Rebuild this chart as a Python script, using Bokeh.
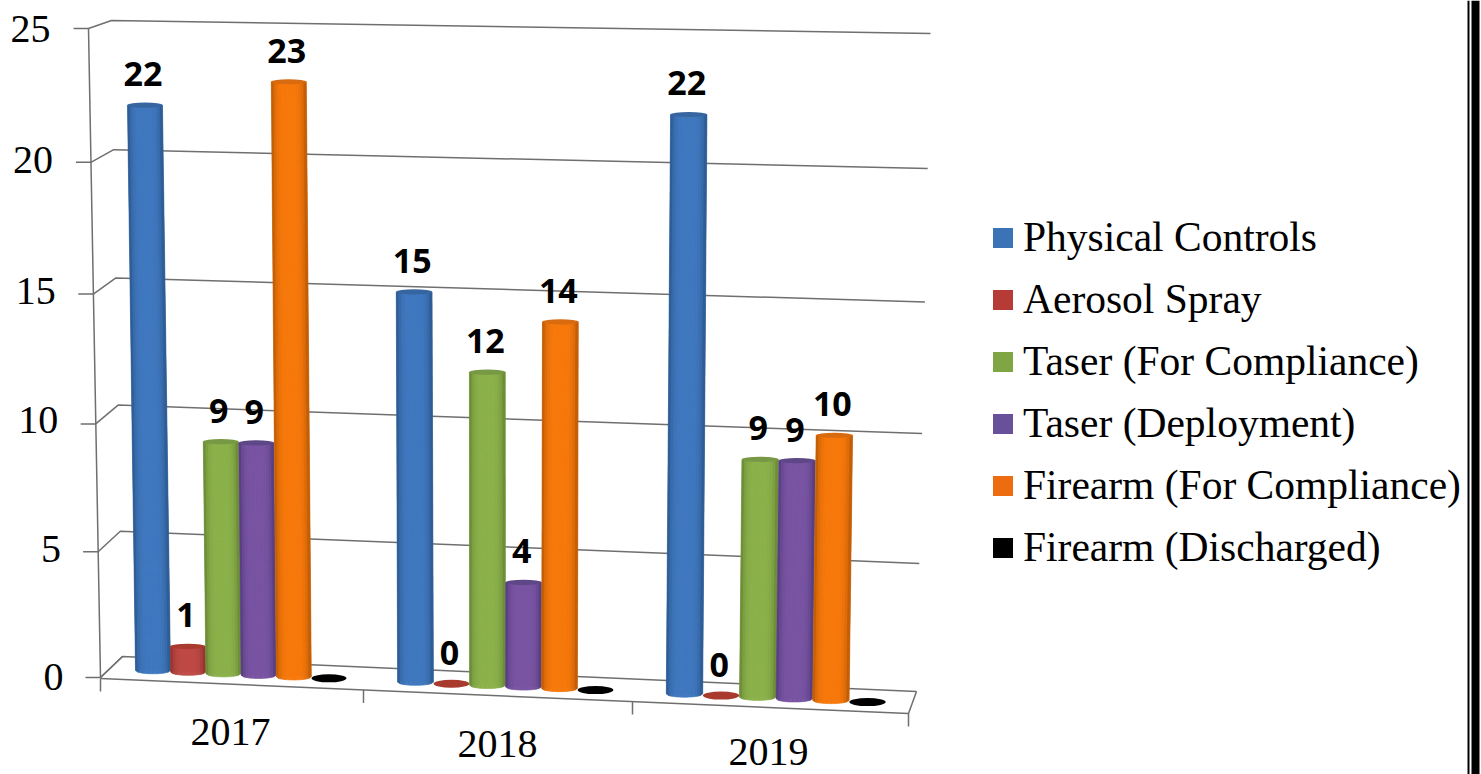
from bokeh.plotting import figure
from bokeh.models import ColumnDataSource, Legend, LegendItem
from bokeh.core.properties import value
from bokeh.embed import file_html
from bokeh.resources import INLINE

years = ["2017", "2018", "2019"]
series = ["Physical Controls", "Aerosol Spray", "Taser (For Compliance)",
          "Taser (Deployment)", "Firearm (For Compliance)", "Firearm (Discharged)"]
physical = [22, 15, 22]
aerosol = [1, 0, 0]
taser_comp = [9, 12, 9]
taser_depl = [9, 4, 9]
firearm_comp = [23, 14, 10]
firearm_disc = [0, 0, 0]
yticks = [0, 5, 10, 15, 20, 25]

all_values = [physical, aerosol, taser_comp, taser_depl, firearm_comp, firearm_disc]
labelled = [True, True, True, True, True, False]

edge = ["#2a5689", "#8a2f2b", "#648432", "#4f3a78", "#b25606", "#000000"]
centre = ["#4179c0", "#bf4a46", "#8cb24c", "#7a55a4", "#f87a0c", "#0a0a0a"]
cap = ["#37659f", "#a83a2e", "#779844", "#5e4786", "#d86a10", "#000000"]
swatch = ["#3a74b6", "#b63a36", "#80a545", "#68509a", "#ee6c10", "#000000"]

FONT = "Liberation Serif"

def fy(h):  return 677 - 25.96 * h + 0.04 * h * (25 - h)
def fx(h):  return 100 - 0.48 * h
def by(h):  return 656 - 25.44 * h + 0.02 * h * (25 - h)
def bx(h):  return 122 - 0.44 * h
def ry(h):  return 691 - 26.32 * h + 0.035 * h * (25 - h)
def rx(h):  return 916 + 0.56 * h
def floor_front(x): return 678 + (x - 100) * 0.0433
def floor_mid(x):   return 670 + (x - 150) * 0.044
def scale(x):       return 25.7 + (x - 150) * 0.0012
def lean(x):        return (x - 500) * 0.00105

first_x = [152.5, 415.0, 684.0]
step_x = [35.2, 36.0, 36.6]

p = figure(width=1481, height=774, x_range=(0, 1481), y_range=(774, 0),
           output_backend="svg", toolbar_location=None, min_border=0,
           outline_line_color=None, background_fill_color="white",
           border_fill_color="white")
p.axis.visible = False
p.grid.visible = False

lx, ly = [], []
for h in yticks:
    lx.append([fx(h) - 15, fx(h), bx(h), rx(h)])
    ly.append([fy(h), fy(h), by(h), ry(h)])
lx.append([fx(25), fx(0)]); ly.append([fy(25), fy(0)])
x_front_r = 908
lx.append([fx(0), x_front_r, rx(0)]); ly.append([floor_front(fx(0)), floor_front(x_front_r), ry(0)])
lx.append([bx(0), fx(0)]); ly.append([by(0), fy(0)])
for tx in [100, 363, 632, 908]:
    lx.append([tx, tx]); ly.append([floor_front(tx), floor_front(tx) + 13])
p.multi_line(lx, ly, line_color="#6f6f6f", line_width=1.5)

N = 14
items = []
lab_x, lab_y, lab_t = [], [], []
for j, vals in enumerate(all_values):
    sil_x, sil_y, sx, sy, sc = [], [], [], [], []
    cx, cy, cw, ch = [], [], [], []
    for i, v in enumerate(vals):
        xb = first_x[i] + j * step_x[i]
        w = step_x[i] - 0.2
        yb = floor_mid(xb)
        yt = yb - v * scale(xb)
        xt = xb + v * lean(xb)
        r = 2.6
        if v > 0:
            sil_x.append([xb - w / 2, xb + w / 2, xt + w / 2, xt - w / 2])
            sil_y.append([yb, yb, yt, yt])
            for k in range(N):
                t0, t1 = k / N, (k + 1) / N
                tm = (t0 + t1) / 2
                a = 1 - (2 * tm - 1) ** 4
                col = tuple(int(int(edge[j][q:q + 2], 16) * (1 - a) + int(centre[j][q:q + 2], 16) * a)
                            for q in (1, 3, 5))
                d0 = 3.2 * (1 - (2 * t0 - 1) ** 2) ** 0.5
                d1 = 3.2 * (1 - (2 * t1 - 1) ** 2) ** 0.5
                sx.append([xb - w / 2 + w * t0, xb - w / 2 + w * t1, xt - w / 2 + w * t1, xt - w / 2 + w * t0])
                sy.append([yb + d0, yb + d1, yt + d1 * 0.8, yt + d0 * 0.8])
                sc.append("#%02x%02x%02x" % col)
        else:
            sil_x.append([xb, xb]); sil_y.append([yb, yb])
        cx.append(xt); cy.append(yt); cw.append(w); ch.append(2 * r if v > 0 else 8)
        if labelled[j]:
            lab_x.append(xt); lab_y.append(yt); lab_t.append(str(v))
    body = p.patches(sil_x, sil_y, fill_color=swatch[j], line_color=None)
    items.append(LegendItem(label=series[j], renderers=[body]))
    if sx:
        p.patches("x", "y", source=ColumnDataSource(dict(x=sx, y=sy, c=sc)),
                  fill_color="c", line_color="c", line_width=0.6)
    p.ellipse(cx, cy, width=cw, height=ch, fill_color=cap[j], line_color=None)

p.text(lab_x, lab_y, text=lab_t, x_offset=-2, y_offset=-31, text_align="center",
       text_baseline="middle", text_font=value("Open Sans"), text_font_style="bold",
       text_font_size="34px", text_color="#000000")

p.text([63 - 0.52 * h for h in yticks],
       [676 - 25.92 * h + 0.02 * h * (25 - h) for h in yticks],
       text=[str(h) for h in yticks], text_align="right", text_baseline="middle",
       text_font=value(FONT), text_font_size="40px", text_color="#000000")

cat_x = [230, 497, 768]
cat_y = [floor_front(x) + 48 for x in cat_x[:2]] + [751]
p.text(cat_x, cat_y, text=years, text_align="center",
       text_baseline="middle", text_font=value(FONT), text_font_size="40px",
       text_color="#000000")

p.quad(left=[1467, 1471], right=[1469, 1479], top=[0, 0], bottom=[774, 774],
       fill_color="#000000", line_color=None)

legend = Legend(items=items, location=(990, 203), orientation="vertical",
                label_text_font=FONT, label_text_font_size="41.5px", label_text_color="#000000",
                glyph_width=25, glyph_height=25, label_standoff=8, spacing=14,
                padding=0, margin=0, border_line_color=None, background_fill_alpha=0)
p.add_layout(legend, "center")

open("out.html", "w").write(file_html(p, INLINE))
